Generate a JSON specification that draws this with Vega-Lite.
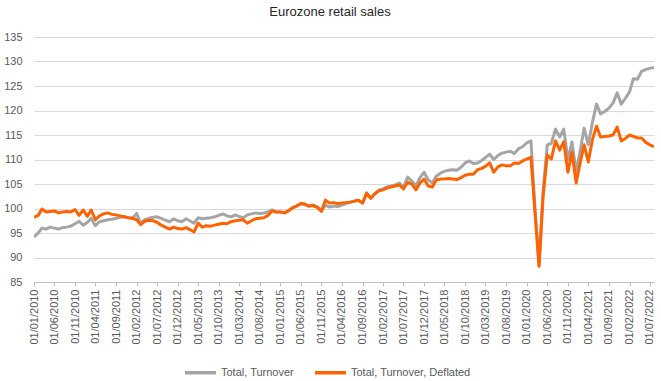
{
  "$schema": "https://vega.github.io/schema/vega-lite/v6.json",
  "autosize": {"type": "none"},
  "width": 620,
  "height": 245,
  "padding": {"left": 34, "top": 37, "right": 7, "bottom": 99},
  "background": "white",
  "title": {"text": "Eurozone retail sales", "fontSize": 13, "fontWeight": "normal", "font": "Liberation Sans", "color": "#262626", "offset": 12, "dx": -14},
  "config": {
    "view": {"stroke": null},
    "font": "Liberation Sans"
  },
  "data": {"values": [
    {"date":"2010-01-01","G":94.2,"O":98.2},{"date":"2010-02-01","G":95,"O":98.6},{"date":"2010-03-01","G":96,"O":99.9},{"date":"2010-04-01","G":95.8,"O":99.3},{"date":"2010-05-01","G":96.2,"O":99.4},{"date":"2010-06-01","G":96,"O":99.5},{"date":"2010-07-01","G":95.8,"O":99.1},{"date":"2010-08-01","G":96.1,"O":99.3},{"date":"2010-09-01","G":96.2,"O":99.4},{"date":"2010-10-01","G":96.4,"O":99.3},{"date":"2010-11-01","G":96.9,"O":99.8},{"date":"2010-12-01","G":97.4,"O":98.6},
    {"date":"2011-01-01","G":96.6,"O":99.7},{"date":"2011-02-01","G":97.2,"O":98.4},{"date":"2011-03-01","G":98,"O":99.7},{"date":"2011-04-01","G":96.5,"O":97.7},{"date":"2011-05-01","G":97.3,"O":98.5},{"date":"2011-06-01","G":97.5,"O":98.9},{"date":"2011-07-01","G":97.7,"O":99.1},{"date":"2011-08-01","G":97.8,"O":98.8},{"date":"2011-09-01","G":98,"O":98.7},{"date":"2011-10-01","G":98.2,"O":98.5},{"date":"2011-11-01","G":98.3,"O":98.3},{"date":"2011-12-01","G":98.1,"O":98.1},
    {"date":"2012-01-01","G":98,"O":98},{"date":"2012-02-01","G":99,"O":97.7},{"date":"2012-03-01","G":97,"O":96.7},{"date":"2012-04-01","G":97.7,"O":97.4},{"date":"2012-05-01","G":98,"O":97.6},{"date":"2012-06-01","G":98.2,"O":97.5},{"date":"2012-07-01","G":98.3,"O":97.2},{"date":"2012-08-01","G":98,"O":96.6},{"date":"2012-09-01","G":97.6,"O":96.2},{"date":"2012-10-01","G":97.3,"O":95.8},{"date":"2012-11-01","G":97.9,"O":96.2},{"date":"2012-12-01","G":97.5,"O":95.9},
    {"date":"2013-01-01","G":97.3,"O":95.8},{"date":"2013-02-01","G":97.9,"O":96.1},{"date":"2013-03-01","G":97.5,"O":95.7},{"date":"2013-04-01","G":97,"O":95.2},{"date":"2013-05-01","G":98.1,"O":97},{"date":"2013-06-01","G":97.9,"O":96.2},{"date":"2013-07-01","G":98,"O":96.5},{"date":"2013-08-01","G":98.1,"O":96.4},{"date":"2013-09-01","G":98.3,"O":96.6},{"date":"2013-10-01","G":98.6,"O":96.8},{"date":"2013-11-01","G":98.9,"O":97},{"date":"2013-12-01","G":98.5,"O":96.9},
    {"date":"2014-01-01","G":98.3,"O":97.3},{"date":"2014-02-01","G":98.7,"O":97.5},{"date":"2014-03-01","G":98.4,"O":97.6},{"date":"2014-04-01","G":98.1,"O":97.7},{"date":"2014-05-01","G":98.7,"O":97},{"date":"2014-06-01","G":98.9,"O":97.5},{"date":"2014-07-01","G":99.1,"O":97.9},{"date":"2014-08-01","G":99,"O":98},{"date":"2014-09-01","G":99.1,"O":98.1},{"date":"2014-10-01","G":99.3,"O":98.6},{"date":"2014-11-01","G":99.7,"O":99.5},{"date":"2014-12-01","G":99.3,"O":99.3},
    {"date":"2015-01-01","G":99.3,"O":99.3},{"date":"2015-02-01","G":99.1,"O":99.1},{"date":"2015-03-01","G":99.6,"O":99.5},{"date":"2015-04-01","G":100.2,"O":100.1},{"date":"2015-05-01","G":100.5,"O":100.5},{"date":"2015-06-01","G":101,"O":101},{"date":"2015-07-01","G":100.8,"O":100.9},{"date":"2015-08-01","G":100.5,"O":100.5},{"date":"2015-09-01","G":100.7,"O":100.6},{"date":"2015-10-01","G":100.4,"O":100.2},{"date":"2015-11-01","G":99.6,"O":99.4},{"date":"2015-12-01","G":100.7,"O":101.7},
    {"date":"2016-01-01","G":100.3,"O":101.1},{"date":"2016-02-01","G":100.5,"O":101.2},{"date":"2016-03-01","G":100.4,"O":101},{"date":"2016-04-01","G":100.7,"O":101.1},{"date":"2016-05-01","G":101,"O":101.2},{"date":"2016-06-01","G":101.3,"O":101.3},{"date":"2016-07-01","G":101.5,"O":101.5},{"date":"2016-08-01","G":101.7,"O":101.7},{"date":"2016-09-01","G":101.1,"O":101.1},{"date":"2016-10-01","G":103.2,"O":103.1},{"date":"2016-11-01","G":102.1,"O":102.1},{"date":"2016-12-01","G":103,"O":103},
    {"date":"2017-01-01","G":103.8,"O":103.6},{"date":"2017-02-01","G":104,"O":103.8},{"date":"2017-03-01","G":104.4,"O":104.2},{"date":"2017-04-01","G":104.6,"O":104.4},{"date":"2017-05-01","G":104.8,"O":104.6},{"date":"2017-06-01","G":105.2,"O":104.8},{"date":"2017-07-01","G":104.3,"O":104},{"date":"2017-08-01","G":106.4,"O":105.3},{"date":"2017-09-01","G":105.6,"O":105},{"date":"2017-10-01","G":104.6,"O":103.8},{"date":"2017-11-01","G":106.3,"O":105.2},{"date":"2017-12-01","G":107.4,"O":106},
    {"date":"2018-01-01","G":105.8,"O":104.6},{"date":"2018-02-01","G":105.2,"O":104.4},{"date":"2018-03-01","G":106.6,"O":105.8},{"date":"2018-04-01","G":107.2,"O":106},{"date":"2018-05-01","G":107.6,"O":106},{"date":"2018-06-01","G":107.8,"O":106.1},{"date":"2018-07-01","G":107.9,"O":106},{"date":"2018-08-01","G":107.8,"O":105.9},{"date":"2018-09-01","G":108.4,"O":106.3},{"date":"2018-10-01","G":109.3,"O":106.8},{"date":"2018-11-01","G":109.7,"O":107},{"date":"2018-12-01","G":109.2,"O":107},
    {"date":"2019-01-01","G":109.3,"O":107.9},{"date":"2019-02-01","G":109.8,"O":108.2},{"date":"2019-03-01","G":110.4,"O":108.6},{"date":"2019-04-01","G":111.1,"O":109.3},{"date":"2019-05-01","G":110,"O":107.4},{"date":"2019-06-01","G":110.8,"O":108.5},{"date":"2019-07-01","G":111.3,"O":108.9},{"date":"2019-08-01","G":111.5,"O":108.7},{"date":"2019-09-01","G":111.7,"O":108.7},{"date":"2019-10-01","G":111.2,"O":109.3},{"date":"2019-11-01","G":112.2,"O":109.2},{"date":"2019-12-01","G":112.6,"O":109.7},
    {"date":"2020-01-01","G":113.4,"O":110.1},{"date":"2020-02-01","G":113.8,"O":110.4},{"date":"2020-03-01","G":100.5,"O":99.5},{"date":"2020-04-01","G":88.6,"O":88.2},{"date":"2020-05-01","G":103.5,"O":102.5},{"date":"2020-06-01","G":113,"O":110.9},{"date":"2020-07-01","G":113.3,"O":110.1},{"date":"2020-08-01","G":116.2,"O":113.8},{"date":"2020-09-01","G":114.6,"O":111.9},{"date":"2020-10-01","G":116.2,"O":113.6},{"date":"2020-11-01","G":110,"O":107.4},{"date":"2020-12-01","G":113.6,"O":111.5},
    {"date":"2021-01-01","G":107.4,"O":105.2},{"date":"2021-02-01","G":112,"O":109.5},{"date":"2021-03-01","G":116.4,"O":113},{"date":"2021-04-01","G":113,"O":109.5},{"date":"2021-05-01","G":117.5,"O":114},{"date":"2021-06-01","G":121.3,"O":116.8},{"date":"2021-07-01","G":119.3,"O":114.6},{"date":"2021-08-01","G":119.8,"O":114.7},{"date":"2021-09-01","G":120.5,"O":114.8},{"date":"2021-10-01","G":121.5,"O":115},{"date":"2021-11-01","G":123.6,"O":116.6},{"date":"2021-12-01","G":121.3,"O":113.8},
    {"date":"2022-01-01","G":122.5,"O":114.3},{"date":"2022-02-01","G":123.8,"O":115},{"date":"2022-03-01","G":126.5,"O":114.7},{"date":"2022-04-01","G":126.4,"O":114.4},{"date":"2022-05-01","G":128,"O":114.4},{"date":"2022-06-01","G":128.4,"O":113.5},{"date":"2022-07-01","G":128.6,"O":113},{"date":"2022-08-01","G":128.8,"O":112.6}
  ]},
  "transform": [
    {"fold": ["G", "O"], "as": ["key", "value"]},
    {"lookup": "key", "from": {"data": {"values": [{"key": "G", "series": "Total, Turnover"}, {"key": "O", "series": "Total, Turnover, Deflated"}]}, "key": "key", "fields": ["series"]}}
  ],
  "mark": {"type": "line", "strokeWidth": 3, "strokeJoin": "round", "clip": true},
  "encoding": {
    "x": {
      "field": "date", "type": "temporal",
      "scale": {"type": "utc", "domain": [{"year": 2010, "month": 1, "date": 1, "utc": true}, {"year": 2022, "month": 8, "date": 1, "utc": true}]},
      "axis": {
        "title": null,
        "labelExpr": "utcFormat(datum.value, '%d/%m/%Y')",
        "labelAngle": -90, "labelFontSize": 11, "labelColor": "#595959", "labelPadding": 3,
        "labelOverlap": false, "labelFlush": false, "labelBound": false,
        "grid": false, "domainColor": "#bfbfbf", "tickColor": "#bfbfbf", "tickSize": 4,
        "values": [
          {"year":2010,"month":1,"date":1,"utc":true},{"year":2010,"month":6,"date":1,"utc":true},{"year":2010,"month":11,"date":1,"utc":true},
          {"year":2011,"month":4,"date":1,"utc":true},{"year":2011,"month":9,"date":1,"utc":true},{"year":2012,"month":2,"date":1,"utc":true},
          {"year":2012,"month":7,"date":1,"utc":true},{"year":2012,"month":12,"date":1,"utc":true},{"year":2013,"month":5,"date":1,"utc":true},
          {"year":2013,"month":10,"date":1,"utc":true},{"year":2014,"month":3,"date":1,"utc":true},{"year":2014,"month":8,"date":1,"utc":true},
          {"year":2015,"month":1,"date":1,"utc":true},{"year":2015,"month":6,"date":1,"utc":true},{"year":2015,"month":11,"date":1,"utc":true},
          {"year":2016,"month":4,"date":1,"utc":true},{"year":2016,"month":9,"date":1,"utc":true},{"year":2017,"month":2,"date":1,"utc":true},
          {"year":2017,"month":7,"date":1,"utc":true},{"year":2017,"month":12,"date":1,"utc":true},{"year":2018,"month":5,"date":1,"utc":true},
          {"year":2018,"month":10,"date":1,"utc":true},{"year":2019,"month":3,"date":1,"utc":true},{"year":2019,"month":8,"date":1,"utc":true},
          {"year":2020,"month":1,"date":1,"utc":true},{"year":2020,"month":6,"date":1,"utc":true},{"year":2020,"month":11,"date":1,"utc":true},
          {"year":2021,"month":4,"date":1,"utc":true},{"year":2021,"month":9,"date":1,"utc":true},{"year":2022,"month":2,"date":1,"utc":true},
          {"year":2022,"month":7,"date":1,"utc":true}
        ]
      }
    },
    "y": {
      "field": "value", "type": "quantitative",
      "scale": {"domain": [85, 135], "nice": false, "zero": false},
      "axis": {
        "title": null, "values": [85, 90, 95, 100, 105, 110, 115, 120, 125, 130, 135],
        "domain": false, "ticks": false, "labelPadding": 12, "labelFontSize": 11, "labelColor": "#595959",
        "gridColor": "#d9d9d9", "gridWidth": 1
      }
    },
    "color": {
      "field": "series", "type": "nominal",
      "scale": {"domain": ["Total, Turnover", "Total, Turnover, Deflated"], "range": ["#a5a5a5", "#ff6200"]},
      "legend": {
        "title": null, "orient": "none", "direction": "horizontal", "legendX": 149, "legendY": 318,
        "symbolType": "stroke", "symbolSize": 960, "symbolStrokeWidth": 3.5,
        "labelFontSize": 11, "labelColor": "#595959", "labelOffset": 3, "columnPadding": 14
      }
    },
    "order": {"field": "date", "type": "temporal"}
  }
}
